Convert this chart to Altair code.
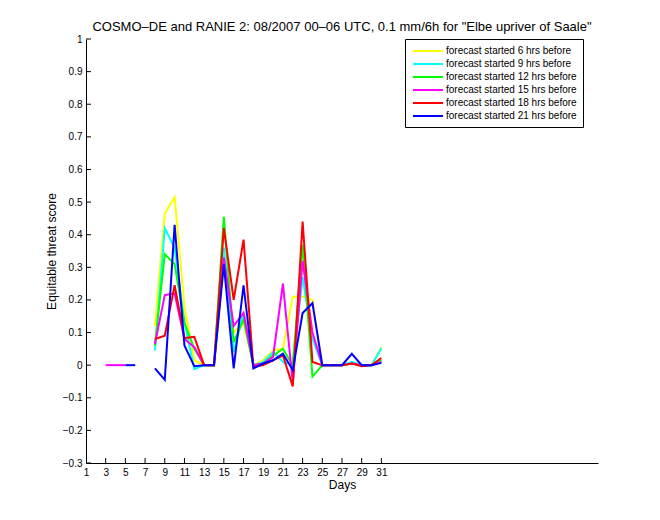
import altair as alt
import pandas as pd

# ---------------- data ----------------
days = list(range(3, 32))
series_names = [
    "forecast started 6 hrs before",
    "forecast started 9 hrs before",
    "forecast started 12 hrs before",
    "forecast started 15 hrs before",
    "forecast started 18 hrs before",
    "forecast started 21 hrs before",
]
series_colors = ["#ffff00", "#00ffff", "#00ff00", "#ff00ff", "#ff0000", "#0000ff"]

N = None
#          3  4  5  6  7   8      9      10     11     12      13 14  15     16     17     18      19     20     21     22      23    24      25 26 27  28     29      30  31
yellow  = [N, N, N, N, N, 0.12,  0.465, 0.515, 0.18,  0.015,  0, 0, 0.30,  0.10,  0.13,  0.0,    0.015, 0.045, 0.05,  0.21,   0.21, 0.20,   0, 0, 0, 0.005, 0.0,    0, 0.055]
cyan    = [N, N, N, N, N, 0.045, 0.42,  0.36,  0.13, -0.012,  0, 0, 0.36,  0.04,  0.16,  0.0,    0.01,  0.04,  0.01,  0.0,    0.27, 0.08,   0, 0, 0, 0.01,  0.0,    0, 0.052]
green   = [N, N, N, N, N, 0.06,  0.34,  0.31,  0.13,  0.05,   0, 0, 0.455, 0.07,  0.14,  0.0,    0.005, 0.03,  0.05,  0.0,    0.37, -0.035, 0, 0, 0, 0.005, 0.0,    0, 0.015]
magenta = [0, 0, 0, N, N, 0.065, 0.215, 0.22,  0.08,  0.055,  0, 0, 0.33,  0.12,  0.16,  0.0,    0.005, 0.025, 0.25, -0.055,  0.32, 0.10,   0, 0, 0, 0.005, 0.0,    0, 0.01]
red     = [N, N, N, N, N, 0.08,  0.09,  0.245, 0.083, 0.087,  0, 0, 0.42,  0.20,  0.385, -0.005, 0.0,   0.015, 0.03, -0.065,  0.44, 0.01,   0, 0, 0, 0.005, -0.003, 0, 0.022]
blue    = [N, N, 0, 0, N, -0.01, -0.045, 0.43, 0.06, -0.003,  0, 0, 0.31, -0.01,  0.245, -0.01,  0.005, 0.015, 0.035, -0.015, 0.16, 0.19,   0, 0, 0, 0.035, 0.0,    0, 0.007]
series_values = [yellow, cyan, green, magenta, red, blue]

x_ticks = [1, 3, 5, 7, 9, 11, 13, 15, 17, 19, 21, 23, 25, 27, 29, 31]
y_ticks = [-0.3, -0.2, -0.1, 0, 0.1, 0.2, 0.3, 0.4, 0.5, 0.6, 0.7, 0.8, 0.9, 1]

title_text = 'COSMO\u2013DE and RANIE 2: 08/2007 00\u201306 UTC, 0.1 mm/6h for "Elbe upriver of Saale"'

rows = []
for name, vals in zip(series_names, series_values):
    seg = 0
    gap = True
    for d, v in zip(days, vals):
        if v is None:
            gap = True
            continue
        if gap:
            seg += 1
            gap = False
        rows.append({"day": d, "score": v, "series": name, "seg": seg})
df = pd.DataFrame(rows)

xt_df = pd.DataFrame({"day": x_ticks[1:]})
yt_df = pd.DataFrame({"score": y_ticks})

# ---------------- chart ----------------
W, H = 512, 424
FONT = "Liberation Sans"

xscale = alt.Scale(domain=[1, 53], nice=False, zero=False)
yscale = alt.Scale(domain=[-0.3, 1], nice=False, zero=False)

x_axis = alt.Axis(values=x_ticks, format="d", ticks=False, tickSize=0, grid=False,
                  labelPadding=4, labelFontSize=10, labelFont=FONT, labelColor="black",
                  domainColor="black", title="Days", titleFontSize=12, titleFont=FONT,
                  titleFontWeight="normal", titleColor="black", titlePadding=2,
                  labelFlush=False, labelOverlap=False)
y_axis = alt.Axis(values=y_ticks, labelExpr="format(datum.value, '~g')", ticks=False, tickSize=0,
                  grid=False, labelPadding=4, labelFontSize=10, labelFont=FONT, labelColor="black",
                  domainColor="black", title="Equitable threat score", titleFontSize=12,
                  titleFont=FONT, titleFontWeight="normal", titleColor="black", titlePadding=4,
                  labelFlush=False, labelOverlap=False)

color_scale = alt.Scale(domain=series_names, range=series_colors)
legend = alt.Legend(title=None, orient="none", legendX=319, legendY=0,
                    strokeColor="black", fillColor="white", padding=6,
                    symbolType="M-3,0H3", symbolSize=100, symbolStrokeWidth=2,
                    symbolOffset=11,
                    labelFontSize=10, labelFont=FONT, labelColor="black",
                    labelOffset=12, rowPadding=2, cornerRadius=0)

layers = []
for name in series_names:
    layers.append(
        alt.Chart(df)
        .transform_filter(alt.datum.series == name)
        .mark_line(strokeWidth=2)
        .encode(
            x=alt.X("day:Q", scale=xscale, axis=x_axis),
            y=alt.Y("score:Q", scale=yscale, axis=y_axis),
            color=alt.Color("series:N", scale=color_scale, legend=legend),
            detail="seg:N",
            order="day:Q",
        )
    )

xticks_layer = alt.Chart(xt_df).mark_rule(color="black", strokeWidth=1).encode(
    x=alt.X("day:Q", scale=xscale, axis=x_axis),
    y=alt.value(H),
    y2=alt.value(H - 5),
)
yticks_layer = alt.Chart(yt_df).mark_rule(color="black", strokeWidth=1).encode(
    y=alt.Y("score:Q", scale=yscale, axis=y_axis),
    x=alt.value(0),
    x2=alt.value(5),
)

chart = (
    alt.layer(*layers, xticks_layer, yticks_layer)
    .properties(
        width=W,
        height=H,
        autosize=alt.AutoSizeParams(type="none"),
        padding={"left": 86, "top": 39, "right": 62, "bottom": 57},
        title=alt.TitleParams(title_text, fontSize=13, font=FONT, fontWeight="normal",
                              color="black", anchor="middle", frame="group", offset=0),
        background="white",
    )
    .configure_view(stroke=None)
)

chart.save("out.html", embed_options={"renderer": "svg", "actions": False})
